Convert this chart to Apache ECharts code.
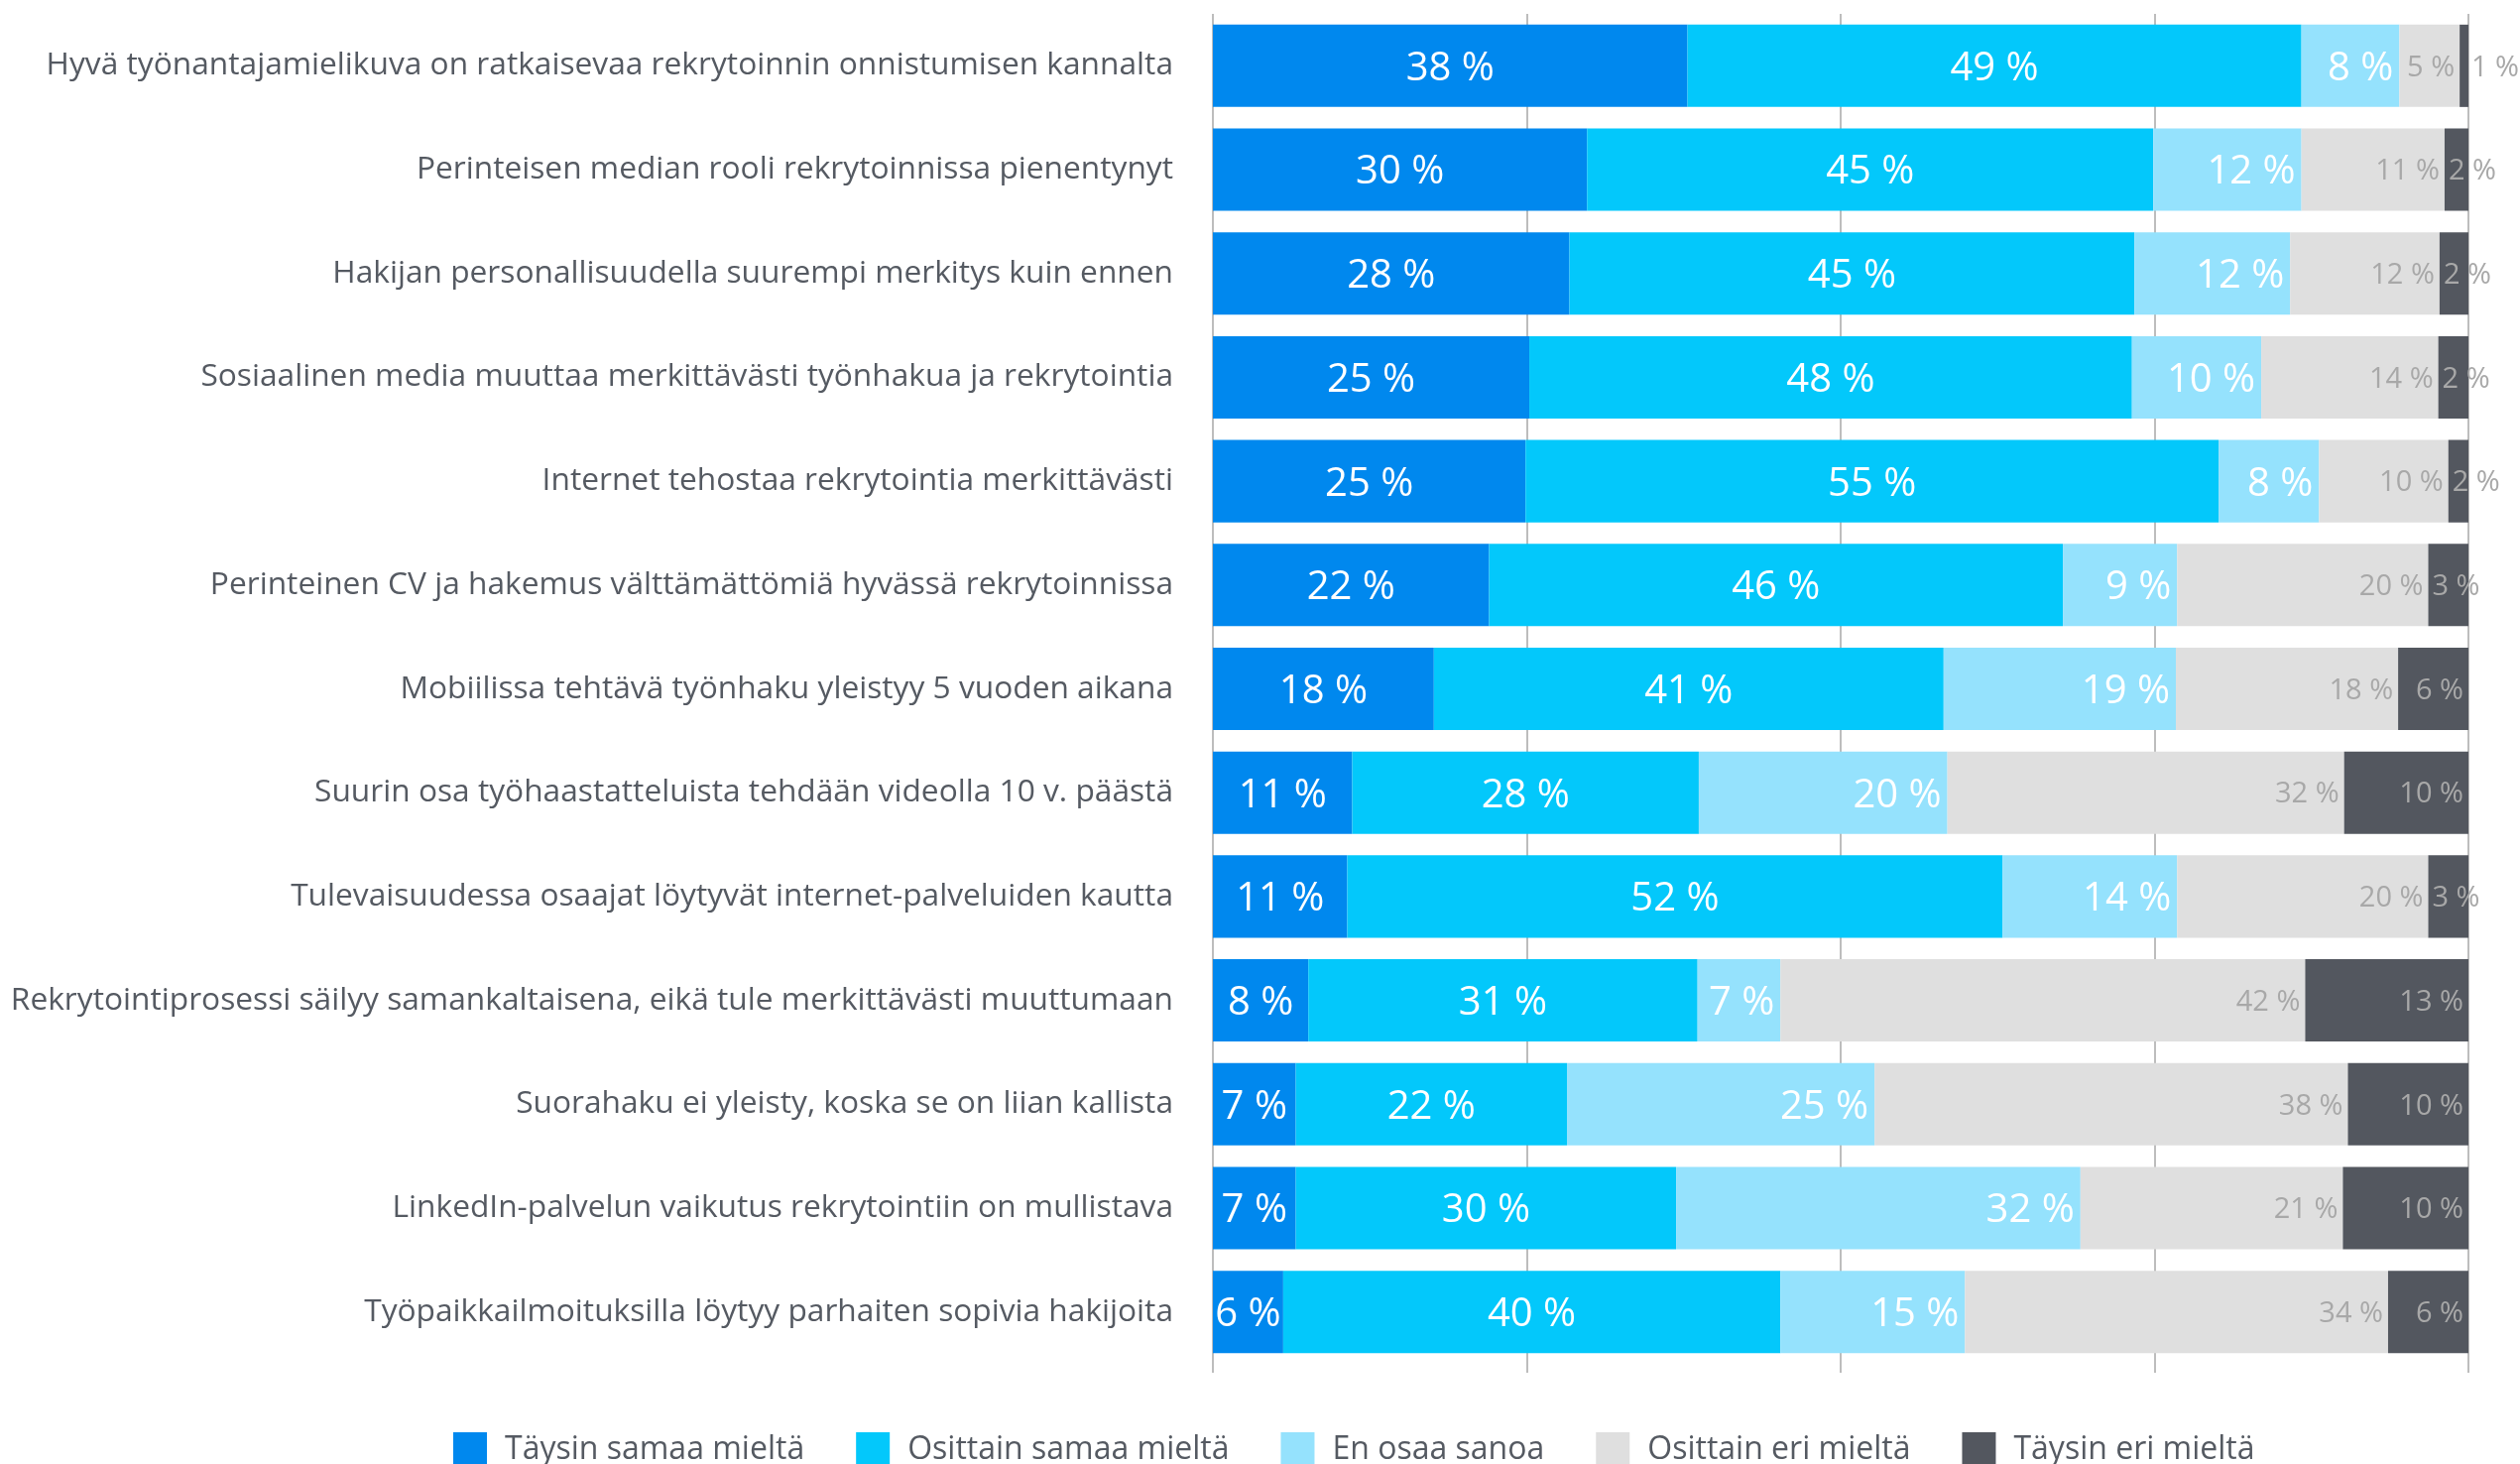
<!DOCTYPE html>
<html>
<head>
<meta charset="utf-8">
<script src="https://cdn.jsdelivr.net/npm/echarts@6/dist/echarts.min.js"></script>
<style>
html,body{margin:0;padding:0;background:#fff;}
#chart{width:2541px;height:1476px;}
</style>
</head>
<body>
<div id="chart"></div>
<script>
const categories = [
  "Hyvä työnantajamielikuva on ratkaisevaa rekrytoinnin onnistumisen kannalta",
  "Perinteisen median rooli rekrytoinnissa pienentynyt",
  "Hakijan personallisuudella suurempi merkitys kuin ennen",
  "Sosiaalinen media muuttaa merkittävästi työnhakua ja rekrytointia",
  "Internet tehostaa rekrytointia merkittävästi",
  "Perinteinen CV ja hakemus välttämättömiä hyvässä rekrytoinnissa",
  "Mobiilissa tehtävä työnhaku yleistyy 5 vuoden aikana",
  "Suurin osa työhaastatteluista tehdään videolla 10 v. päästä",
  "Tulevaisuudessa osaajat löytyvät internet-palveluiden kautta",
  "Rekrytointiprosessi säilyy samankaltaisena, eikä tule merkittävästi muuttumaan",
  "Suorahaku ei yleisty, koska se on liian kallista",
  "LinkedIn-palvelun vaikutus rekrytointiin on mullistava",
  "Työpaikkailmoituksilla löytyy parhaiten sopivia hakijoita"
];
const seriesNames = ["Täysin samaa mieltä", "Osittain samaa mieltä", "En osaa sanoa", "Osittain eri mieltä", "Täysin eri mieltä"];
const taysinSamaa   = [37.8, 29.8, 28.4, 25.2, 24.9, 22.0, 17.6, 11.1, 10.7, 7.6, 6.6, 6.6, 5.6];
const osittainSamaa = [48.9, 45.1, 45.0, 48.0, 55.2, 45.7, 40.6, 27.6, 52.2, 31.0, 21.6, 30.3, 39.6];
const enOsaa        = [7.8, 11.8, 12.4, 10.3, 8.0, 9.1, 18.5, 19.8, 13.9, 6.6, 24.5, 32.2, 14.7];
const osittainEri   = [4.8, 11.4, 11.9, 14.1, 10.3, 20.0, 17.7, 31.6, 20.0, 41.8, 37.7, 20.9, 33.7];
const taysinEri     = [0.7, 1.9, 2.3, 2.4, 1.6, 3.2, 5.6, 9.9, 3.2, 13.0, 9.6, 10.0, 6.4];
const xTicks = [0, 25, 50, 75, 100];

const colors = ['#0088ee', '#03c8fb', '#95e2fd', '#dfdfdf', '#53575f'];
const FONT = '"Open Sans", sans-serif';
const textGray = '#555a62';
const fmt = p => Math.round(p.value) + ' %';

function bigLabel(pos) {
  return { show: true, position: pos, color: '#ffffff', fontSize: 40, fontFamily: FONT, formatter: fmt, distance: 6, offset: [0, 3] };
}
function smallLabel(pos) {
  return { show: true, position: pos, color: '#a8a8a8', fontSize: 29, fontFamily: FONT, formatter: fmt, distance: 5, offset: [0, 2] };
}

const lastData = taysinEri.map(v => {
  if (v < 1) return { value: v, label: { position: 'right', distance: 3 } };
  if (v < 5) return { value: v, label: { position: 'insideLeft', distance: 4 } };
  return v;
});

const dataSets = [taysinSamaa, osittainSamaa, enOsaa, osittainEri, lastData];
const labels = [bigLabel('inside'), bigLabel('inside'), bigLabel('insideRight'), smallLabel('insideRight'), smallLabel('insideRight')];

const series = seriesNames.map((n, i) => ({
  name: n,
  type: 'bar',
  stack: 'all',
  data: dataSets[i],
  barCategoryGap: '20.7%',
  itemStyle: { color: colors[i] },
  label: labels[i],
  emphasis: { disabled: true }
}));

const chart = echarts.init(document.getElementById('chart'), null, { renderer: 'canvas' });
chart.setOption({
  animation: false,
  color: colors,
  grid: { left: 1223, right: 52, top: 14, bottom: 101, containLabel: false, outerBoundsMode: 'none' },
  xAxis: {
    type: 'value', min: xTicks[0], max: xTicks[xTicks.length - 1], interval: 25,
    axisLabel: { show: false },
    axisLine: { show: false },
    axisTick: { show: true, length: 9, lineStyle: { color: '#bdbdbd', width: 2 } },
    splitLine: { show: true, lineStyle: { color: '#bdbdbd', width: 2 } }
  },
  yAxis: {
    type: 'category', data: categories, inverse: true,
    axisLine: { show: false },
    axisTick: { show: false },
    axisLabel: { color: textGray, fontSize: 31.7, fontFamily: FONT, margin: 40, padding: [6, 0, 0, 0] }
  },
  legend: {
    data: seriesNames,
    left: 452, top: 1439,
    itemWidth: 34, itemHeight: 35, itemGap: 52,
    icon: 'rect',
    textStyle: { color: textGray, fontSize: 32, fontFamily: FONT, padding: [0, 0, 0, 13] }
  },
  series: series
});
</script>
</body>
</html>
